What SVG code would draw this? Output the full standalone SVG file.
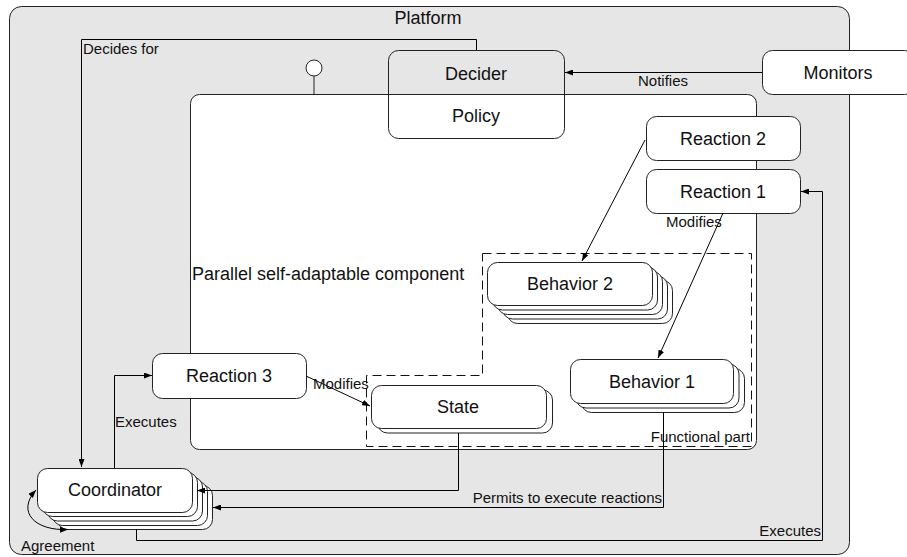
<svg xmlns="http://www.w3.org/2000/svg" width="907" height="557" viewBox="0 0 907 557">
<defs>
<marker id="ah" viewBox="0 0 8 6" refX="8" refY="3" markerWidth="8" markerHeight="6" markerUnits="userSpaceOnUse" orient="auto-start-reverse">
<path d="M0,0 L8,3 L0,6 z" fill="#000"/>
</marker>
<style>
.box{fill:#fff;stroke:#222;stroke-width:1}
.nt{font-family:"Liberation Sans",Arial,sans-serif;font-size:18px;fill:#111;text-anchor:middle}
.lb{font-family:"Liberation Sans",Arial,sans-serif;font-size:15px;fill:#111}
.cn{fill:none;stroke:#000;stroke-width:1}
.arr{marker-end:url(#ah)}
.dash{fill:none;stroke:#111;stroke-width:1;stroke-dasharray:9,5}
</style>
</defs>

<g id="platform">
<rect x="9.5" y="6.5" width="840" height="548" rx="12" fill="#e6e6e6" stroke="#222"/>
<text class="nt" x="428" y="24">Platform</text>
</g>

<g id="component">
<rect x="190.5" y="94.5" width="566" height="355" rx="9" fill="#fff" stroke="#222"/>
<text class="nt" x="192" y="280" style="text-anchor:start">Parallel self-adaptable component</text>
<line x1="314" y1="76" x2="314" y2="94" stroke="#222"/>
<circle cx="314" cy="68" r="8" fill="#fff" stroke="#222"/>
</g>

<g id="decider">
<rect x="388.5" y="50.5" width="176" height="88" rx="10" fill="none" stroke="#222"/>
<text class="nt" x="476" y="80">Decider</text>
<text class="nt" x="476" y="122">Policy</text>
</g>

<g id="monitors">
<rect class="box" x="762.5" y="50.5" width="152" height="44" rx="10"/>
<text class="nt" x="838" y="79">Monitors</text>
</g>

<g id="reaction2">
<rect class="box" x="646.5" y="116.5" width="154" height="44" rx="10"/>
<text class="nt" x="723" y="145">Reaction 2</text>
</g>

<g id="reaction1">
<rect class="box" x="646.5" y="169.5" width="154" height="44" rx="10"/>
<text class="nt" x="723" y="198">Reaction 1</text>
</g>

<g id="functional-part">
<path class="dash" d="M482.5,253.5 H751.5 V446.5 H366.5 V375.5 H482.5 Z"/>
<text class="lb" x="750" y="442" style="text-anchor:end">Functional part</text>
</g>

<g id="behavior2">
<rect class="box" x="507.5" y="280.5" width="165" height="43" rx="10"/>
<rect class="box" x="502.5" y="276" width="165" height="43" rx="10"/>
<rect class="box" x="497.5" y="271.5" width="165" height="43" rx="10"/>
<rect class="box" x="492.5" y="267" width="165" height="43" rx="10"/>
<rect class="box" x="487.5" y="262.5" width="165" height="43" rx="10"/>
<text class="nt" x="570" y="290">Behavior 2</text>
</g>

<g id="behavior1">
<rect class="box" x="581.5" y="368.5" width="163" height="44" rx="10"/>
<rect class="box" x="576" y="364" width="163" height="44" rx="10"/>
<rect class="box" x="570.5" y="359.5" width="163" height="44" rx="10"/>
<text class="nt" x="652" y="388">Behavior 1</text>
</g>

<g id="state">
<rect class="box" x="377.5" y="390" width="175" height="43" rx="10"/>
<rect class="box" x="371.5" y="385.5" width="175" height="43" rx="10"/>
<text class="nt" x="458" y="413">State</text>
</g>

<g id="reaction3">
<rect class="box" x="152.5" y="353.5" width="154" height="45" rx="10"/>
<text class="nt" x="229" y="382">Reaction 3</text>
</g>

<g id="coordinator">
<rect class="box" x="57.5" y="485.5" width="155" height="44" rx="10"/>
<rect class="box" x="52.5" y="481.5" width="155" height="44" rx="10"/>
<rect class="box" x="47.5" y="477" width="155" height="44" rx="10"/>
<rect class="box" x="42.5" y="472.5" width="155" height="44" rx="10"/>
<rect class="box" x="37.5" y="468.5" width="155" height="44" rx="10"/>
<text class="nt" x="115" y="496">Coordinator</text>
</g>

<g id="connectors">
<path class="cn arr" d="M476.5,50 V39.5 H81.5 V467"/>
<text class="lb" x="83" y="54">Decides for</text>

<path class="cn arr" d="M762,72.5 H565"/>
<text class="lb" x="663" y="86" style="text-anchor:middle">Notifies</text>

<path class="cn arr" d="M645,140 L582,261"/>

<path class="cn arr" d="M723,213 L658,358"/>
<text class="lb" x="666" y="227">Modifies</text>

<path class="cn arr" d="M136.5,529 V540.5 H822.5 V191.5 H801"/>
<text class="lb" x="821" y="536" style="text-anchor:end">Executes</text>

<path class="cn arr" d="M114.5,468 V375.5 H152"/>
<text class="lb" x="115" y="427">Executes</text>

<path class="cn arr" d="M306,376 L370,406"/>
<text class="lb" x="313" y="389">Modifies</text>

<path class="cn arr" d="M458.5,433 V490.5 H197"/>

<path class="cn arr" d="M663.5,412 V507.5 H213"/>
<text class="lb" x="662" y="503" style="text-anchor:end">Permits to execute reactions</text>

<path class="cn" d="M68,529.5 C35,531 16,512 36,490" marker-start="url(#ah)" marker-end="url(#ah)"/>
<text class="lb" x="21" y="551">Agreement</text>
</g>
</svg>
